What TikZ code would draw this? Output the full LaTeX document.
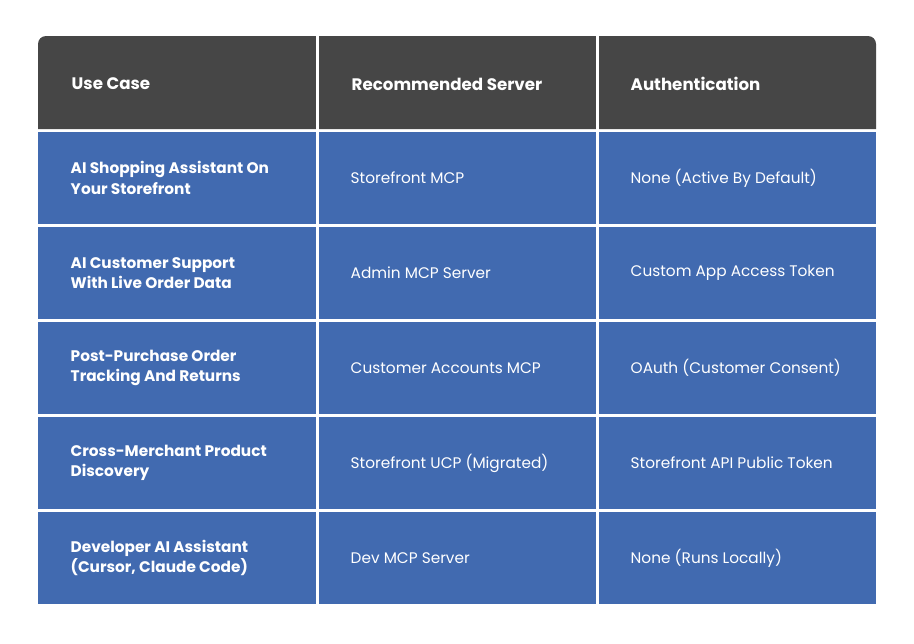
\documentclass[tikz,border=0pt]{standalone}
\usepackage{fontspec}
\setmainfont{Poppins}
\definecolor{hdrgray}{HTML}{464646}
\definecolor{cellblue}{HTML}{416AB0}
\tikzset{
  cell/.style={anchor=west, text=white, align=left, font=\fontsize{11.5}{15.5}\selectfont},
  head/.style={cell, font=\bfseries\fontsize{12.5}{15}\selectfont},
  usecase/.style={cell, font=\bfseries\fontsize{11.5}{15.5}\selectfont}
}
\begin{document}
\begin{tikzpicture}[x=0.75pt, y=-0.75pt]
    \useasboundingbox (0,0) rectangle (914,643);
    \fill[white] (0,0) rectangle (914,643);

    % header band
    \fill[hdrgray] (38,129) [rounded corners=6pt] -- (38,36) -- (876,36) [sharp corners] -- (876,129) -- cycle;
    \node[head] at (67,84) (h1) {Use Case};
    \node[head] at (347,84) (h2) {Recommended Server};
    \node[head] at (626,84) (h3) {Authentication};

    % body rows
    \foreach \i/\a/\b/\c in {
      0/{AI Shopping Assistant On\\Your Storefront}/{Storefront MCP}/{None (Active By Default)},
      1/{AI Customer Support\\With Live Order Data}/{Admin MCP Server}/{Custom App Access Token},
      2/{Post-Purchase Order\\Tracking And Returns}/{Customer Accounts MCP}/{OAuth (Customer Consent)},
      3/{Cross-Merchant Product\\Discovery}/{Storefront UCP (Migrated)}/{Storefront API Public Token},
      4/{Developer AI Assistant\\(Cursor, Claude Code)}/{Dev MCP Server}/{None (Runs Locally)}} {
      \pgfmathsetmacro{\top}{132+95*\i}
      \pgfmathsetmacro{\mid}{\top+46}
      \fill[cellblue] (38,\top) rectangle (876,\top+92);
      \node[usecase] at (66,\mid) (uc\i) {\a};
      \node[cell] at (346,\mid) (srv\i) {\b};
      \node[cell] at (626,\mid) (auth\i) {\c};
    }

    % column separators
    \fill[white] (316,36) rectangle (319,604);
    \fill[white] (596,36) rectangle (599,604);
  \end{tikzpicture}
\end{document}
